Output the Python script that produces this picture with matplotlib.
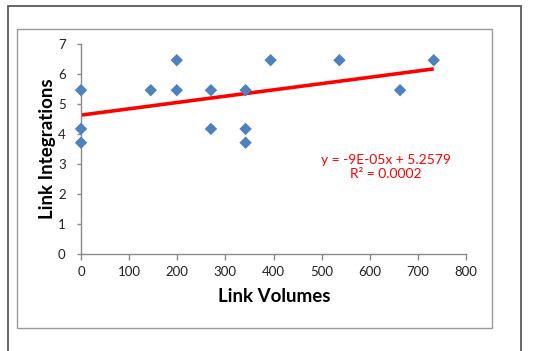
import matplotlib
matplotlib.use("Agg")
import matplotlib.pyplot as plt
from matplotlib.patches import Rectangle
import numpy as np

# data
link_volumes = [0, 0, 0, 145, 199, 199, 270, 270, 342, 342, 342, 394, 537, 663, 733]
link_integrations = [5.45, 4.16, 3.70, 5.45, 6.45, 5.45, 5.45, 4.16, 5.45, 4.16, 3.70, 6.45, 6.45, 5.45, 6.45]
trend_x = [0, 733]
trend_y = [4.62, 6.16]
x_ticks = [0, 100, 200, 300, 400, 500, 600, 700, 800]
y_ticks = [0, 1, 2, 3, 4, 5, 6, 7]
equation_text = "y = -9E-05x + 5.2579\nR² = 0.0002"

W, H = 547, 351
fig = plt.figure(figsize=(W / 100, H / 100), dpi=100)
fig.patch.set_facecolor("white")

def fx(px):
    return px / W

def fy(py):
    return 1 - py / H

# outer and inner frames
fig.patches.append(Rectangle((fx(8), fy(360)), fx(521) - fx(8), fy(6) - fy(360),
                             transform=fig.transFigure, fill=False, edgecolor="#5a5a5a", lw=1.3))
fig.patches.append(Rectangle((fx(17), fy(328)), fx(492) - fx(17), fy(29) - fy(328),
                             transform=fig.transFigure, fill=False, edgecolor="#9a9a9a", lw=1.0))

ax = fig.add_axes([fx(81), fy(253.7), fx(466) - fx(81), fy(43.7) - fy(253.7)])
ax.set_xlim(0, 800)
ax.set_ylim(0, 7)
ax.set_xticks(x_ticks)
ax.set_yticks(y_ticks)
for s in ["top", "right"]:
    ax.spines[s].set_visible(False)
for s in ["left", "bottom"]:
    ax.spines[s].set_color("#8a8a8a")
    ax.spines[s].set_linewidth(1.0)
ax.tick_params(axis="both", colors="#8a8a8a", labelcolor="#222222", labelsize=9.5,
               direction="out", width=1.0)
ax.tick_params(axis="y", length=3, pad=8)
ax.tick_params(axis="x", length=4, pad=5)
for lab in ax.get_xticklabels() + ax.get_yticklabels():
    lab.set_family("Lato")

ax.scatter(link_volumes, link_integrations, marker="D", s=40, color="#4F81BD",
           edgecolors="none", zorder=3, clip_on=False)
ax.plot(trend_x, trend_y, color="#FF0000", lw=2.6, solid_capstyle="butt", zorder=2)

fig.text(fx(386), fy(167), equation_text, color="#FF0000", ha="center", va="center",
         fontsize=10, family="Lato", linespacing=1.3)

fig.text(fx(274), fy(297), "Link Volumes", ha="center", va="center",
         fontsize=13.5, fontweight="bold", family="Lato", color="black")
fig.text(fx(47), fy(149), "Link Integrations", ha="center", va="center", rotation=90,
         fontsize=13.5, fontweight="bold", family="Lato", color="black")

fig.savefig("out.png", dpi=100)
